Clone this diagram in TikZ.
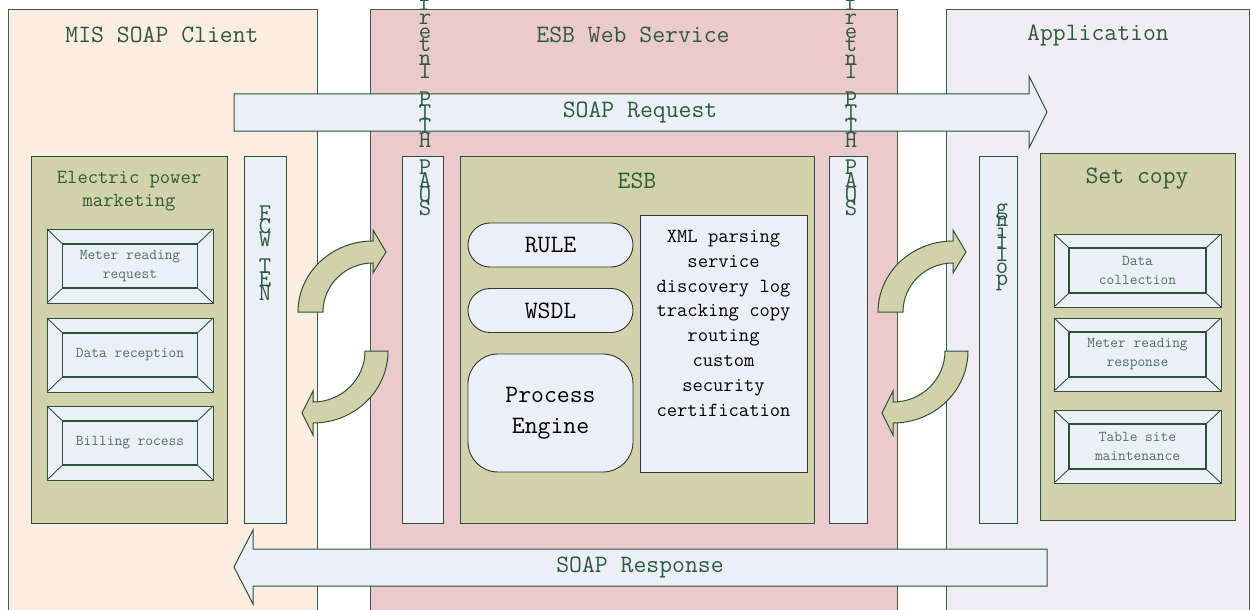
\documentclass[tikz,border=0pt]{standalone}
\usepackage{fontspec}
\usepackage{xcolor}
\usetikzlibrary{positioning}

\definecolor{clientbg}{HTML}{FCEDE3}
\definecolor{esbbg}{HTML}{EACACA}
\definecolor{appbg}{HTML}{EFEDF3}
\definecolor{khaki}{HTML}{D2D2AA}
\definecolor{paleblue}{HTML}{EBF0F8}
\definecolor{lineg}{HTML}{2B5138}
\definecolor{textg}{HTML}{2E5A3C}
\definecolor{softg}{HTML}{4F7060}

\begin{document}
\begin{tikzpicture}[x=1pt,y=-1pt,
    lane/.style={draw=lineg!75!gray,line width=1pt},
    bigarrow/.style={draw=lineg,fill=paleblue,line width=1pt},
    curvearrow/.style={draw=lineg,fill=khaki,line width=1pt},
    khakibox/.style={draw=lineg,fill=khaki,line width=0.9pt,inner sep=0pt},
    bar/.style={draw=lineg,fill=paleblue,line width=0.9pt,inner sep=0pt},
    pill/.style={draw=black!80,fill=paleblue,line width=0.9pt,rounded corners=22pt,
        font=\ttfamily\fontsize{25}{31}\selectfont,align=center},
    bevelout/.style={draw=lineg,line width=0.9pt},
    bevelin/.style={draw=lineg,fill=paleblue,line width=1.3pt,inner sep=0pt,align=center,
        text=softg,font=\ttfamily\fontsize{15}{19}\selectfont},
    title/.style={font=\ttfamily\fontsize{25}{25}\selectfont,text=textg},
    boxtitle/.style={font=\ttfamily\fontsize{20}{23}\selectfont,text=textg,align=center},
    arrowtext/.style={font=\ttfamily\fontsize{25}{25}\selectfont,text=textg},
    vletter/.style={font=\ttfamily\fontsize{24}{24}\selectfont,text=textg,inner sep=0pt,anchor=base}]

    \useasboundingbox (0,0) rectangle (1251,610);
    \clip (0,0) rectangle (1251,610);

    % the three lanes
    \draw[lane,fill=clientbg] (8,10) rectangle (317,625);
    \draw[lane,fill=esbbg] (370,10) rectangle (897,625);
    \draw[lane,fill=appbg] (946,10) rectangle (1249,625);

    \node[title] (client) at (162,35) {MIS SOAP Client};
    \node[title] (websvc) at (633,35) {ESB Web Service};
    \node[title] (app) at (1098,35) {Application};

    % request and response
    \draw[bigarrow] (234,94) -- (1029,94) -- (1029,76) -- (1047,112) -- (1029,148) -- (1029,131) -- (234,131) -- cycle;
    \node[arrowtext] (req) at (640,112) {SOAP Request};

    \draw[bigarrow] (1047,549) -- (253,549) -- (253,530) -- (234,567) -- (253,604) -- (253,586) -- (1047,586) -- cycle;
    \node[arrowtext] (resp) at (640,567) {SOAP Response};

    % client side
    \node[khakibox,minimum width=196pt,minimum height=367pt,anchor=north west] (market) at (31,156) {};
    \node[boxtitle] (markettitle) at (129,191) {Electric power\\marketing};

    \foreach \y/\txt [count=\i] in {229/{Meter reading\\request},318/{Data reception},406/{Billing rocess}} {
        \draw[bevelout,fill=paleblue] (47,\y) rectangle (213,\y+74);
        \node[bevelin,minimum width=135pt,minimum height=44pt] (ml\i) at (130,\y+37) {\txt};
        \draw[bevelout] (47,\y) -- (ml\i.north west) (213,\y) -- (ml\i.north east)
            (47,\y+74) -- (ml\i.south west) (213,\y+74) -- (ml\i.south east);
    }

    \node[bar,minimum width=42pt,minimum height=367pt,anchor=north west] (wcf) at (244,156) {};

    % ESB
    \node[bar,minimum width=41pt,minimum height=367pt,anchor=north west] (soapin) at (402,156) {};
    \node[bar,minimum width=38pt,minimum height=367pt,anchor=north west] (soapout) at (829,156) {};

    \node[khakibox,minimum width=354pt,minimum height=367pt,anchor=north west] (esb) at (460,156) {};
    \node[title] (esbtitle) at (637,181) {ESB};

    \node[pill,minimum width=165pt,minimum height=44pt] (rule) at (550.5,245) {RULE};
    \node[pill,minimum width=165pt,minimum height=44pt] (wsdl) at (550.5,310.5) {WSDL};
    \node[pill,minimum width=165pt,minimum height=118pt,rounded corners=30pt] (engine) at (550.5,413) {Process\\Engine};

    \node[bar,draw=black!80,minimum width=167pt,minimum height=257pt,anchor=north west] (xml) at (640,215) {};
    \node[font=\ttfamily\fontsize{20}{24.8}\selectfont,align=center,inner sep=0pt,anchor=north]
        (features) at (723.5,230) {XML parsing\\service\\discovery log\\tracking copy\\routing\\custom\\security\\certification};

    % application side
    \node[bar,minimum width=38pt,minimum height=367pt,anchor=north west] (poll) at (979,156) {};

    \node[khakibox,minimum width=195pt,minimum height=367pt,anchor=north west] (setcopy) at (1040,153) {};
    \node[title] (setcopytitle) at (1137,179) {Set copy};

    \foreach \y/\txt [count=\i] in {234/{Data\\collection},318/{Meter reading\\response},410/{Table site\\maintenance}} {
        \draw[bevelout,fill=paleblue] (1054,\y) rectangle (1221,\y+73);
        \node[bevelin,minimum width=137pt,minimum height=45pt] (ap\i) at (1137.5,\y+36.5) {\txt};
        \draw[bevelout] (1054,\y) -- (ap\i.north west) (1221,\y) -- (ap\i.north east)
            (1054,\y+73) -- (ap\i.south west) (1221,\y+73) -- (ap\i.south east);
    }

    % vertical labels on the bars
    \foreach \ch [count=\i] in {N,E,T,{},W,C,F}
        \node[vletter] (wcf\i) at (265,{300-13.3*(\i-1)}) {\ch};
    \foreach \ch [count=\i] in {S,O,A,P,{},H,T,T,P,{},I,n,t,e,r,f,a,c,e} {
        \node[vletter] (pin\i) at (425,{215-13.6*(\i-1)}) {\ch};
        \node[vletter] (pout\i) at (851,{215-13.6*(\i-1)}) {\ch};
    }
    \foreach \ch [count=\i] in {p,o,l,l,i,n,g}
        \node[vletter] (poll\i) at (1002,{285-11.7*(\i-1)}) {\ch};

    % exchange arrows
    \foreach \dx in {0,580} {
        \begin{scope}[xshift=\dx]
            \draw[curvearrow] (298,312) arc[start angle=180,end angle=270,x radius=75,y radius=71]
                -- (373,230) -- (386,252) -- (373,273) -- (373,263)
                arc[start angle=270,end angle=180,x radius=50,y radius=49] -- cycle;
            \draw[curvearrow] (388,351) arc[start angle=0,end angle=90,x radius=75,y radius=72]
                -- (313,435) -- (302,413) -- (313,391) -- (313,402)
                arc[start angle=90,end angle=0,x radius=52,y radius=51] -- cycle;
        \end{scope}
    }
\end{tikzpicture}
\end{document}
